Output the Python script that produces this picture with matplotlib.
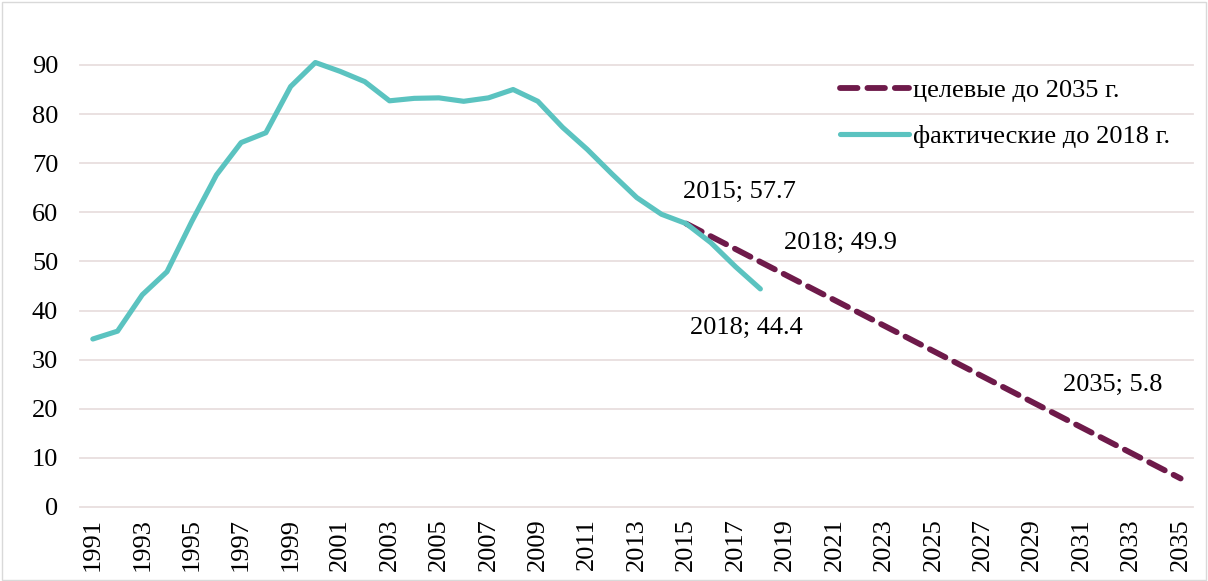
import matplotlib.pyplot as plt
import numpy as np

plt.rcParams['font.family'] = ['Liberation Serif', 'DejaVu Serif']

# фактические значения, 1991-2018
years_fact = list(range(1991, 2019))
fact = [34.2, 35.8, 43.2, 47.9, 58.1, 67.6, 74.2, 76.2, 85.6, 90.5,
        88.7, 86.6, 82.7, 83.2, 83.3, 82.6, 83.3, 85.0, 82.6, 77.3,
        72.8, 67.8, 63.0, 59.6, 57.7, 53.8, 48.9, 44.4]

# целевые значения (точки подписей)
years_target = [2015, 2018, 2035]
target = [57.7, 49.9, 5.8]

teal = '#5bc3c0'
purple = '#6e1a4a'
grid_c = '#e8dede'
fs = 19

fig = plt.figure(figsize=(12.08, 5.81), dpi=100)
ax = fig.add_axes([0.0666, 0.1274, 0.9210, 0.7608])

for y in range(0, 100, 10):
    ax.axhline(y, color=grid_c, lw=1.3, zorder=0, clip_on=False)

ax.plot(years_target, target, color=purple, lw=4.2, linestyle=(0, (3.0, 1.7)),
        dash_capstyle='round', label='целевые до 2035 г.', zorder=2, clip_on=False)
ax.plot(years_fact, fact, color=teal, lw=3.7, solid_capstyle='round',
        label='фактические до 2018 г.', zorder=3, clip_on=False)

ax.set_xlim(1990.5, 2035.5)
ax.set_ylim(0, 90)
ax.set_yticks(range(0, 100, 10))
ax.set_xticks(range(1991, 2036, 2))
ax.tick_params(axis='x', labelrotation=90, labelsize=fs, length=0, pad=8)
ax.tick_params(axis='y', labelsize=fs, length=0, pad=16)
for s in ax.spines.values():
    s.set_visible(False)

ax.annotate('2015; 57.7', (2015, 57.7), xytext=(38, 23), textcoords='offset points',
            ha='center', va='center', fontsize=fs)
ax.annotate('2018; 49.9', (2018, 49.9), xytext=(58, 14), textcoords='offset points',
            ha='center', va='center', fontsize=fs)
ax.annotate('2018; 44.4', (2018, 44.4), xytext=(-10, -28), textcoords='offset points',
            ha='center', va='center', fontsize=fs)
ax.annotate('2035; 5.8', (2035, 5.8), xytext=(-49, 67), textcoords='offset points',
            ha='center', va='center', fontsize=fs)

fig.legend(*ax.get_legend_handles_labels(), loc='upper left',
           bbox_to_anchor=(0.695, 0.864), bbox_transform=fig.transFigure,
           frameon=False, fontsize=fs, borderpad=0, borderaxespad=0,
           handlelength=2.65, handletextpad=0.15, labelspacing=0.83)

border = plt.Rectangle((0.002, 0.002), 0.996, 0.994, transform=fig.transFigure,
                       fill=False, edgecolor='#d9d9d9', lw=1)
fig.patches.append(border)

fig.savefig('out.png', dpi=100)
